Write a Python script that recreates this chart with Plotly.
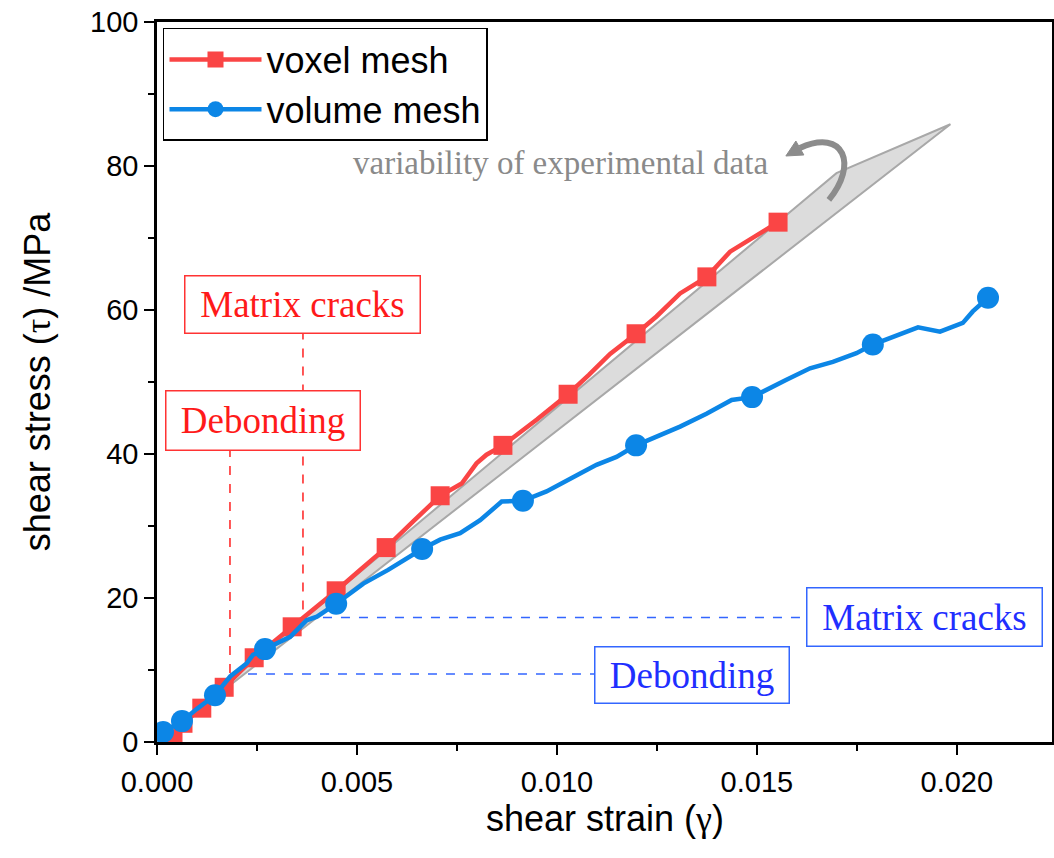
import plotly.graph_objects as go

# ---------------- data ----------------
# voxel mesh: marker points
voxel_mark_x = [0.0004, 0.00065, 0.00112, 0.00168, 0.00243, 0.00338, 0.00448, 0.00573,
                0.00708, 0.00865, 0.01028, 0.01198, 0.01375, 0.01553]
voxel_mark_y = [0.3, 2.6, 4.7, 7.6, 11.7, 16.0, 21.0, 27.0, 34.2, 41.2, 48.3, 56.7, 64.6, 72.2]
# voxel mesh: full curve
voxel_line_x = [0.0004, 0.00065, 0.00112, 0.00168, 0.00243, 0.00338, 0.0037, 0.004, 0.00448,
                0.0051, 0.00573, 0.0064, 0.00708, 0.00762, 0.00799, 0.00824, 0.00865, 0.0095,
                0.01028, 0.0108, 0.01133, 0.01198, 0.01249, 0.01308, 0.01329, 0.01375,
                0.01433, 0.01474, 0.01553]
voxel_line_y = [0.3, 2.6, 4.7, 7.6, 11.7, 16.0, 17.6, 19.0, 21.0,
                24.0, 27.0, 30.6, 34.2, 35.9, 38.7, 39.9, 41.2, 44.8,
                48.3, 51.0, 53.9, 56.7, 59.1, 62.3, 63.0, 64.6,
                68.1, 69.5, 72.2]

# volume mesh: marker points
volume_mark_x = [0.00015, 0.000625, 0.00145, 0.0027, 0.00448, 0.00663, 0.00915, 0.01198,
                 0.01488, 0.0179, 0.02078]
volume_mark_y = [1.4, 2.9, 6.5, 12.9, 19.2, 26.8, 33.5, 41.2, 47.9, 55.2, 61.7]
# volume mesh: full curve
volume_line_x = [0.00015, 0.000625, 0.0010, 0.00145, 0.00183, 0.00224, 0.0024, 0.0027, 0.00333,
                 0.00374, 0.004, 0.00448, 0.00516, 0.00578, 0.00628, 0.00663, 0.00708, 0.00758,
                 0.00808, 0.00862, 0.00915, 0.00974, 0.01058, 0.01099, 0.01149, 0.01198,
                 0.01308, 0.01374, 0.01437, 0.01488, 0.01574, 0.01633, 0.0169, 0.01749,
                 0.0179, 0.01849, 0.01903, 0.01958, 0.02015, 0.0204, 0.02078]
volume_line_y = [1.4, 2.9, 4.6, 6.5, 9.1, 10.9, 12.1, 12.9, 14.6,
                 16.9, 17.4, 19.2, 22.0, 23.9, 25.6, 26.8, 28.1, 29.0,
                 30.8, 33.4, 33.5, 34.8, 37.3, 38.5, 39.6, 41.2,
                 43.8, 45.6, 47.5, 47.9, 50.3, 51.9, 52.8, 54.0,
                 55.2, 56.5, 57.6, 57.0, 58.2, 59.8, 61.7]

# experimental scatter band (polygon)
band_x = [0.0, 0.01699, 0.01984, 0.0]
band_y = [0.0, 79.0, 85.8, 0.0]

# event levels
red_debond_x, red_matrix_x = 0.001825, 0.00365
blue_debond_y, blue_matrix_y = 9.45, 17.3

x_ticks = [0.000, 0.005, 0.010, 0.015, 0.020]
y_ticks = [0, 20, 40, 60, 80, 100]

RED = "#FA4545"
BLUE = "#0C86E6"
SANS = "Liberation Sans, Arial, sans-serif"
SERIF = "Liberation Serif, Times New Roman, serif"

fig = go.Figure()

# band
fig.add_trace(go.Scatter(x=band_x, y=band_y, mode="lines", fill="toself",
                         fillcolor="#dcdcdc", line=dict(color="#a8a8a8", width=2),
                         showlegend=False, hoverinfo="skip"))

# voxel mesh
fig.add_trace(go.Scatter(x=voxel_line_x, y=voxel_line_y, mode="lines",
                         line=dict(color=RED, width=4.5), showlegend=False))
fig.add_trace(go.Scatter(x=voxel_mark_x, y=voxel_mark_y, mode="markers",
                         marker=dict(color=RED, symbol="square", size=19), showlegend=False))
# volume mesh
fig.add_trace(go.Scatter(x=volume_line_x, y=volume_line_y, mode="lines",
                         line=dict(color=BLUE, width=4.5), showlegend=False))
fig.add_trace(go.Scatter(x=volume_mark_x, y=volume_mark_y, mode="markers",
                         marker=dict(color=BLUE, symbol="circle", size=22), showlegend=False))

# legend entries
fig.add_trace(go.Scatter(x=[None], y=[None], mode="lines+markers", name="voxel mesh",
                         line=dict(color=RED, width=4.5),
                         marker=dict(color=RED, symbol="square", size=17)))
fig.add_trace(go.Scatter(x=[None], y=[None], mode="lines+markers", name="volume mesh",
                         line=dict(color=BLUE, width=4.5),
                         marker=dict(color=BLUE, symbol="circle", size=19)))

shapes = []
# red dashed verticals
shapes.append(dict(type="line", xref="x", yref="y", x0=red_matrix_x, x1=red_matrix_x,
                   y0=18.4, y1=57.0, line=dict(color="#FF2020", width=1.5, dash="dash"),
                   layer="below"))
shapes.append(dict(type="line", xref="x", yref="y", x0=red_debond_x, x1=red_debond_x,
                   y0=9.6, y1=40.8, line=dict(color="#FF2020", width=1.5, dash="dash"),
                   layer="below"))
# blue dashed horizontals
shapes.append(dict(type="line", xref="x", yref="y", x0=0.0037, x1=0.01623,
                   y0=blue_matrix_y, y1=blue_matrix_y,
                   line=dict(color="#3366FF", width=1.5, dash="dash"), layer="below"))
shapes.append(dict(type="line", xref="x", yref="y", x0=red_debond_x, x1=0.01095,
                   y0=blue_debond_y, y1=blue_debond_y,
                   line=dict(color="#3366FF", width=1.5, dash="dash"), layer="below"))
# curved arrow
shapes.append(dict(type="path", xref="x", yref="y",
                   path="M 0.0168,75.3 C 0.017525,80.1 0.0172,85.3 0.016075,82.5",
                   line=dict(color="#8c8c8c", width=6)))
shapes.append(dict(type="path", xref="x", yref="y",
                   path="M 0.015725,81.39 L 0.016175,81.53 L 0.015975,83.47 Z",
                   fillcolor="#8c8c8c", line=dict(color="#8c8c8c", width=1)))
fig.update_layout(shapes=shapes)

annotations = [
    dict(x=0.01008, y=80.4, xref="x", yref="y", text="variability of experimental data",
         showarrow=False, font=dict(family=SERIF, size=33, color="#8a8a8a")),
    dict(x=0.00365, y=60.8, xref="x", yref="y", text="Matrix cracks", showarrow=False,
         font=dict(family=SERIF, size=37, color="#FF1a1a"), bgcolor="white",
         bordercolor="#FF3333", borderwidth=1.5, borderpad=2, width=230, height=52),
    dict(x=0.00266, y=44.6, xref="x", yref="y", text="Debonding", showarrow=False,
         font=dict(family=SERIF, size=37, color="#FF1a1a"), bgcolor="white",
         bordercolor="#FF3333", borderwidth=1.5, borderpad=2, width=189, height=54),
    dict(x=0.01918, y=17.3, xref="x", yref="y", text="Matrix cracks", showarrow=False,
         font=dict(family=SERIF, size=37, color="#1f2fff"), bgcolor="white",
         bordercolor="#3366FF", borderwidth=1.5, borderpad=2, width=230, height=53),
    dict(x=0.01339, y=9.375, xref="x", yref="y", text="Debonding", showarrow=False,
         font=dict(family=SERIF, size=37, color="#1f2fff"), bgcolor="white",
         bordercolor="#3366FF", borderwidth=1.5, borderpad=2, width=189, height=51),
    # x-axis title
    dict(x=0.5, y=-0.106, xref="paper", yref="paper", yanchor="middle",
         text="shear strain (<span style='font-family:Liberation Serif'>γ</span>)",
         showarrow=False, font=dict(family=SANS, size=36, color="black")),
]
fig.update_layout(annotations=annotations)

axis_common = dict(showline=True, mirror=True, linecolor="black", linewidth=2.5,
                   ticks="outside", ticklen=10, tickwidth=2, tickcolor="black",
                   showgrid=False, zeroline=False,
                   tickfont=dict(family=SANS, size=29, color="black"))

fig.update_xaxes(range=[0, 0.02238], tickvals=x_ticks, tickformat=".3f",
                 ticklabelstandoff=2,
                 minor=dict(ticks="outside", ticklen=6, tickwidth=2, dtick=0.0025,
                            tickcolor="black"),
                 **axis_common)
fig.update_yaxes(range=[0, 100], tickvals=y_ticks,
                 minor=dict(ticks="outside", ticklen=6, tickwidth=2, dtick=10,
                            tickcolor="black"),
                 title=dict(text="shear stress (<span style='font-family:Liberation Serif'>τ</span>) /MPa",
                            font=dict(family=SANS, size=36, color="black"), standoff=29),
                 **axis_common)

fig.update_layout(
    width=1054, height=858,
    margin=dict(l=157, r=2, t=22, b=116, autoexpand=False),
    plot_bgcolor="white", paper_bgcolor="white",
    legend=dict(x=0.0067, y=0.9917, xanchor="left", yanchor="top",
                bordercolor="black", borderwidth=1.5, bgcolor="white",
                font=dict(family=SANS, size=36, color="black"),
                itemwidth=92, tracegroupgap=0),
)

fig.write_html("out.html")
